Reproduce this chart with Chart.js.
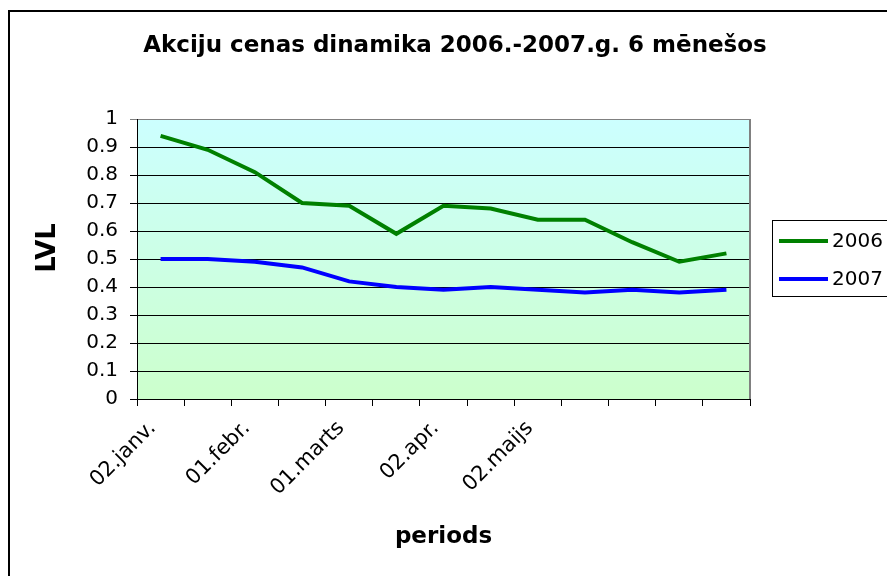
<!DOCTYPE html>
<html>
<head>
<meta charset="utf-8">
<script src="https://cdn.jsdelivr.net/npm/chart.js@4/dist/chart.umd.min.js"></script>
<style>
  html, body { margin: 0; padding: 0; background: #fff; }
  #wrap { width: 887px; height: 576px; position: relative; }
</style>
</head>
<body>
<div id="wrap"><canvas id="chart"></canvas></div>
<script>
// Data (13 periods, only some labelled)
const categories = ['02.janv.', '', '01.febr.', '', '01.marts', '', '02.apr.', '', '02.maijs', '', '', '', ''];
const prices2006 = [0.94, 0.89, 0.81, 0.70, 0.69, 0.59, 0.69, 0.68, 0.64, 0.64, 0.56, 0.49, 0.52];
const prices2007 = [0.50, 0.50, 0.49, 0.47, 0.42, 0.40, 0.39, 0.40, 0.39, 0.38, 0.39, 0.38, 0.39];
const seriesLabels = ['2006', '2007'];
const seriesColors = ['#008000', '#0000FF'];
const yMin = 0, yMax = 1, yStep = 0.1;

const chartTitle = 'Akciju cenas dinamika 2006.-2007.g. 6 mēnešos';
const xTitle = 'periods';
const yTitle = 'LVL';

const FONT = "'DejaVu Sans', 'Liberation Sans', Arial, sans-serif";

const framePlugin = {
    id: 'frame',
    beforeDraw(chart) {
        const { ctx, chartArea: a, width, height } = chart;
        ctx.save();
        ctx.fillStyle = '#fff';
        ctx.fillRect(0, 0, width, height);

        // plot area gradient
        const grad = ctx.createLinearGradient(0, a.top, 0, a.bottom);
        grad.addColorStop(0, '#CCFFFF');
        grad.addColorStop(1, '#CCFFCC');
        ctx.fillStyle = grad;
        ctx.fillRect(a.left, a.top, a.right - a.left, a.bottom - a.top);

        // outer frame (runs off the right / bottom edge)
        ctx.strokeStyle = '#000';
        ctx.lineWidth = 2;
        ctx.strokeRect(9, 11, 1000, 1000);
        ctx.restore();
    },
    afterDraw(chart) {
        const { ctx, chartArea: a } = chart;
        ctx.save();

        // right edge of plot area
        ctx.strokeStyle = '#808080';
        ctx.lineWidth = 2;
        ctx.beginPath();
        ctx.moveTo(a.right, a.top);
        ctx.lineTo(a.right, a.bottom);
        ctx.stroke();

        // title
        ctx.fillStyle = '#000';
        ctx.font = 'bold 23px ' + FONT;
        ctx.textAlign = 'center';
        ctx.textBaseline = 'middle';
        ctx.fillText(chartTitle, 455, 46);

        // y title
        ctx.save();
        ctx.translate(48, 248);
        ctx.rotate(-Math.PI / 2);
        ctx.font = 'bold 26px ' + FONT;
        ctx.fillText(yTitle, 0, 0);
        ctx.restore();

        // legend
        ctx.strokeStyle = '#000';
        ctx.lineWidth = 1;
        ctx.strokeRect(772.5, 220.5, 200, 76);
        ctx.font = '20px ' + FONT;
        ctx.textAlign = 'left';
        ctx.textBaseline = 'middle';
        chart.data.datasets.forEach((ds, i) => {
            const y = 241 + i * 38;
            ctx.strokeStyle = ds.borderColor;
            ctx.lineWidth = 4;
            ctx.beginPath();
            ctx.moveTo(779, y);
            ctx.lineTo(828, y);
            ctx.stroke();
            ctx.fillStyle = '#000';
            ctx.fillText(ds.label, 832, y + 1);
        });
        ctx.restore();
    }
};

new Chart(document.getElementById('chart'), {
    type: 'line',
    data: {
        labels: categories,
        datasets: [
            { label: seriesLabels[0], data: prices2006, borderColor: seriesColors[0], backgroundColor: seriesColors[0] },
            { label: seriesLabels[1], data: prices2007, borderColor: seriesColors[1], backgroundColor: seriesColors[1] },
        ]
    },
    options: {
        responsive: true,
        maintainAspectRatio: false,
        animation: false,
        layout: { padding: { top: 119, right: 137, bottom: 0, left: 0 } },
        elements: {
            line: { borderWidth: 4, tension: 0 },
            point: { radius: 0, hoverRadius: 0 }
        },
        plugins: {
            legend: { display: false },
            title: { display: false },
            tooltip: { enabled: false }
        },
        scales: {
            x: {
                offset: true,
                afterFit: (s) => { s.height = 177; },
                grid: {
                    offset: true,
                    drawOnChartArea: false,
                    drawTicks: true,
                    tickLength: 7,
                    color: '#000'
                },
                border: { color: '#000', width: 1 },
                ticks: {
                    autoSkip: false,
                    minRotation: 45,
                    maxRotation: 45,
                    padding: 10,
                    labelOffset: -8,
                    color: '#000',
                    font: { family: FONT, size: 21 }
                },
                title: {
                    display: true,
                    text: xTitle,
                    color: '#000',
                    font: { family: FONT, size: 23, weight: 'bold' },
                    padding: { top: 0, bottom: 25 }
                }
            },
            y: {
                min: yMin,
                max: yMax,
                afterFit: (s) => { s.width = 137; },
                grid: {
                    color: (c) => (c.tick && c.tick.value === yMax ? '#808080' : '#000'),
                    lineWidth: 1,
                    tickLength: 7
                },
                border: { color: '#000', width: 1 },
                ticks: {
                    stepSize: yStep,
                    padding: 12,
                    color: '#000',
                    font: { family: FONT, size: 20 },
                    callback: (v) => String(Math.round(v * 10) / 10)
                }
            }
        }
    },
    plugins: [framePlugin]
});
</script>
</body>
</html>
